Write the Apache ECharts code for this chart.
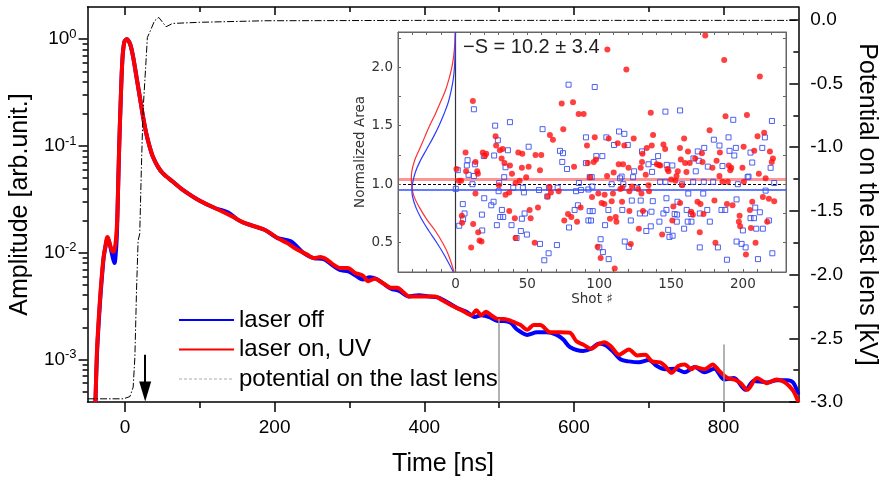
<!DOCTYPE html>
<html><head><meta charset="utf-8">
<script src="https://cdn.jsdelivr.net/npm/echarts@6/dist/echarts.min.js"></script>
<style>html,body{margin:0;padding:0;background:#fff}#c{width:887px;height:482px}</style>
</head><body><div id="c"></div>
<script>
// ---------- main panel data ----------
const laserOff = [[-39.5,0.0004],[-37.5,0.0011],[-35,0.0023],[-32.5,0.0042],[-30.5,0.0063],[-28.5,0.009],[-26.3,0.0112],[-24.5,0.013],[-23,0.0135],[-21,0.0125],[-18.5,0.0105],[-16,0.0088],[-14,0.008],[-12.5,0.0095],[-11,0.014],[-10.1,0.0226],[-7.9,0.0913],[-5.7,0.27],[-3.5,0.64],[-0.9,0.94],[2.2,1.0],[6.6,0.91],[10.9,0.68],[15.4,0.44],[19.7,0.29],[24.1,0.188],[28.5,0.13],[32.9,0.0986],[37.3,0.079],[43.9,0.064],[50.4,0.0556],[63.6,0.0464],[76.8,0.039],[98.7,0.031],[120.7,0.0261],[138,0.0238],[150,0.0205],[160.2,0.0189],[186.5,0.0164],[204,0.0137],[221.6,0.0128],[239,0.0099],[252,0.0089],[265.5,0.0087],[276.5,0.0077],[287,0.0069],[298.5,0.0067],[307,0.0062],[318,0.0056],[327,0.0059],[335.7,0.0057],[344.5,0.0052],[355.5,0.0046],[366.4,0.0044],[379.5,0.0039],[392.7,0.004],[405.9,0.0039],[419,0.0038],[432.2,0.0034],[445.4,0.003],[456.4,0.0028],[467.4,0.0025],[476,0.0026],[487.1,0.0025],[498,0.0023],[506.8,0.0023],[515.7,0.0022],[524.4,0.0019],[537.5,0.0017],[550.7,0.0018],[563.9,0.0018],[577,0.0017],[585.8,0.00154],[594.6,0.00131],[612.2,0.0012],[623.1,0.00126],[634.1,0.00141],[643,0.00135],[651.7,0.0012],[662.6,0.001],[673.6,0.00096],[686.8,0.00094],[700,0.00099],[710.9,0.00087],[721.8,0.00081],[735,0.00082],[748.2,0.00076],[761.4,0.00085],[774.5,0.00076],[787.7,0.00082],[800.8,0.00065],[814,0.00067],[829.4,0.00052],[840.3,0.00063],[857.9,0.00061],[871.1,0.00064],[884.3,0.00064],[893,0.00061],[900,0.00047]];
const laserOn = [[-39.5,0.0004],[-37.5,0.0012],[-35,0.0025],[-32.5,0.0045],[-30.5,0.0067],[-28.5,0.0092],[-26.3,0.0114],[-24.5,0.0135],[-23.3,0.014],[-21.5,0.013],[-19,0.0112],[-16,0.0102],[-14.5,0.0104],[-12.5,0.0125],[-11,0.017],[-10.1,0.0236],[-7.9,0.0913],[-5.7,0.27],[-3.5,0.64],[-0.9,0.94],[2.2,1.0],[6.6,0.91],[10.9,0.68],[15.4,0.44],[19.7,0.29],[24.1,0.188],[28.5,0.13],[32.9,0.0986],[37.3,0.079],[43.9,0.064],[50.4,0.0556],[63.6,0.0464],[76.8,0.039],[98.7,0.031],[120.7,0.0261],[142.6,0.022],[160.2,0.0189],[186.5,0.0164],[204,0.0137],[217,0.0123],[230,0.0107],[243.5,0.0096],[252,0.0089],[261,0.0091],[270,0.0086],[279,0.0077],[287,0.0072],[298,0.0072],[307,0.0065],[318,0.0061],[325,0.0054],[333.5,0.0057],[344.5,0.0052],[355.5,0.0047],[364,0.0047],[373,0.0042],[379.5,0.0039],[388,0.0039],[401.5,0.0039],[414.7,0.0039],[423.5,0.0036],[436.7,0.0032],[449.8,0.0029],[463,0.0026],[469.6,0.0029],[476,0.0026],[482.7,0.0028],[489.3,0.0026],[498,0.0024],[507,0.0024],[515.7,0.0023],[528.8,0.0021],[537.5,0.0019],[546.3,0.0021],[555,0.0021],[568.3,0.0018],[581.5,0.0018],[594.6,0.00178],[603.4,0.00148],[612.2,0.00138],[623.1,0.00126],[631.9,0.00138],[640.7,0.00145],[649.4,0.00133],[660.5,0.00111],[673.6,0.00124],[684.6,0.00109],[695.5,0.00111],[704.3,0.00096],[715.3,0.00094],[721.8,0.00087],[730.6,0.00075],[739.5,0.00087],[748.2,0.0009],[757,0.00081],[761.4,0.00085],[774.5,0.00081],[785.5,0.0009],[794.2,0.00078],[805.3,0.00067],[814,0.00065],[822.8,0.0006],[831.6,0.00052],[844.8,0.00067],[857.9,0.0006],[871.1,0.00065],[882,0.00061],[893,0.00051],[900,0.0004]];
const lensPotential = [[-50,-2.975],[-2,-2.975],[6.6,-2.957],[10.9,-2.884],[13.2,-2.649],[15.4,-2.125],[17.5,-1.733],[19.7,-1.68],[21.9,-1.16],[24.1,-0.714],[27.6,-0.374],[29.9,-0.139],[32.9,-0.1],[39.5,-0.008],[45.2,0.018],[50.4,-0.021],[54.9,-0.055],[63.6,-0.029],[100,-0.02],[187,-0.008],[400,-0.005],[900,-0.005]];
const timeMajorTicks = [0, 200, 400, 600, 800];
const timeMinorTicks = [100, 300, 500, 700];
const ampMinorTicks = [0.0005,0.0006,0.0007,0.0008,0.0009,0.002,0.003,0.004,0.005,0.006,0.007,0.008,0.009,0.02,0.03,0.04,0.05,0.06,0.07,0.08,0.09,0.2,0.3,0.4,0.5,0.6,0.7,0.8,0.9];
const potMajorTicks = [-3, -2.5, -2, -1.5, -1, -0.5, 0];
const potMinorTicks = [-2.75, -2.25, -1.75, -1.25, -0.75, -0.25];
const arrowMark = [[27, 0.00111], [27, 0.000502]];
const guideLines = [[[500, 0.0024], [500, 0.0004]], [[800, 0.00138], [800, 0.0004]]];

// ---------- inset data ----------
const gaussRed = [[-1,0.25],[-5,0.4],[-9,0.5],[-14,0.6],[-20,0.7],[-25,0.8],[-29,0.9],[-30.5,1.0],[-30.7,1.05],[-30.5,1.1],[-28.5,1.2],[-25,1.3],[-21.5,1.4],[-18,1.5],[-14,1.6],[-10.5,1.7],[-7,1.8],[-4.5,1.9],[-2.5,2.0],[-1.2,2.1],[-0.5,2.2],[-0.2,2.3]];
const gaussBlue = [[-1.5,0.25],[-8,0.4],[-13,0.5],[-18.5,0.6],[-23.5,0.7],[-27.5,0.8],[-30,0.9],[-30.3,0.95],[-30,1.0],[-28,1.1],[-24.5,1.2],[-20,1.3],[-15.5,1.4],[-11.5,1.5],[-8,1.6],[-5,1.7],[-3,1.8],[-1.5,1.9],[-0.7,2.0],[-0.3,2.1],[0,2.3]];
const meanRed = 1.045, meanBlue = 0.951, unity = 1.0;
const shotsRed = [[12.1,1.71],[81.8,1.70],[73.9,1.69],[85.7,1.60],[89.2,1.60],[75.0,1.47],[65.7,1.42],[27.9,1.41],[67.8,1.38],[28.3,1.33],[91.5,1.33],[32.8,1.30],[30.9,1.29],[43.7,1.27],[7.0,1.27],[19.0,1.27],[21.4,1.26],[46.5,1.26],[55.7,1.25],[59.7,1.25],[20.4,1.24],[32.1,1.22],[13.9,1.19],[34.1,1.18],[92.0,1.18],[37.9,1.16],[50.9,1.15],[82.5,1.15],[46.2,1.14],[0.7,1.13],[58.8,1.12],[7.4,1.11],[15.1,1.11],[15.6,1.09],[39.3,1.09],[49.2,1.06],[93.6,1.06],[2.3,1.03],[3.9,1.03],[44.6,1.03],[41.8,1.01],[30.2,0.99],[65.5,0.975],[37.4,0.93],[66.4,0.93],[13.9,0.92],[71.8,0.94],[34.8,0.91],[64.1,0.895],[87.1,0.80],[57.4,0.80],[51.6,0.78],[37.4,0.77],[78.3,0.745],[4.4,0.73],[80.6,0.72],[41.3,0.71],[52.3,0.71],[75.7,0.69],[84.6,0.68],[4.6,0.67],[12.3,0.66],[15.8,0.59],[41.8,0.54],[16.7,0.52],[18.1,0.51],[55.1,0.50],[10.9,0.46],
[173.8,2.27],[105.7,2.15],[187.0,2.06],[118.9,1.98],[211.8,1.92],[135.9,1.61],[187.9,1.58],[202.8,1.59],[176.8,1.46],[214.8,1.44],[210.2,1.41],[96.9,1.40],[106.6,1.39],[124.0,1.39],[137.5,1.42],[159.1,1.39],[112.9,1.35],[117.5,1.33],[136.6,1.33],[133.1,1.31],[144.7,1.34],[145.9,1.30],[156.2,1.31],[161.8,1.28],[130.1,1.26],[171.5,1.265],[184.0,1.27],[200.5,1.32],[207.9,1.285],[218.8,1.28],[220.9,1.22],[220.1,1.19],[97.8,1.21],[96.2,1.19],[113.6,1.17],[116.6,1.17],[120.4,1.14],[129.8,1.19],[128.9,1.14],[140.1,1.17],[141.7,1.165],[142.5,1.16],[156.8,1.21],[159.8,1.18],[163.0,1.18],[166.8,1.22],[171.9,1.19],[181.7,1.20],[190.2,1.16],[191.9,1.14],[191.2,1.12],[199.7,1.14],[154.7,1.11],[147.5,1.13],[148.2,1.11],[132.4,1.08],[110.1,1.10],[105.5,1.07],[160.7,1.105],[178.8,1.14],[183.7,1.07],[211.1,1.09],[153.8,1.07],[153.1,1.03],[150.1,1.04],[134.3,0.99],[122.9,0.98],[114.7,0.96],[157.7,0.99],[185.8,1.02],[189.5,1.02],[200.7,1.02],[215.8,1.05],[99.4,0.92],[103.8,0.91],[109.6,0.92],[116.1,0.97],[121.0,0.94],[129.4,0.92],[134.7,0.94],[127.1,0.96],[95.0,0.89],[101.7,0.84],[103.6,0.83],[108.7,0.855],[115.9,0.85],[151.6,0.81],[156.3,0.84],[168.4,0.85],[170.5,0.83],[180.2,0.86],[188.9,0.83],[192.8,0.82],[206.5,0.85],[204.9,0.78],[213.9,0.89],[218.1,0.875],[221.8,0.855],[121.0,0.77],[130.5,0.77],[150.9,0.69],[164.0,0.765],[165.2,0.74],[172.6,0.745],[107.5,0.705],[112.0,0.68],[111.5,0.72],[127.6,0.62],[143.8,0.57],[170.0,0.59],[197.7,0.73],[197.2,0.68],[198.1,0.64],[205.6,0.625],[216.9,0.68],[98.9,0.465],[101.0,0.37],[110.8,0.28],[122.0,0.49],[180.9,0.50],[208.8,0.50],[202.1,0.40]];
const shotsBlue = [[78.7,1.85],[12.8,1.64],[37.9,1.53],[27.6,1.50],[60.6,1.47],[90.8,1.40],[29.5,1.375],[72.7,1.285],[50.9,1.32],[36.5,1.29],[26.9,1.245],[19.7,1.24],[8.4,1.205],[7.9,1.16],[13.5,1.17],[74.8,1.265],[74.3,1.19],[90.8,1.18],[34.8,1.145],[77.6,1.13],[1.6,1.12],[9.1,1.08],[12.8,1.07],[33.9,1.06],[11.8,1.00],[0.2,0.96],[30.4,1.01],[30.0,0.94],[40.2,0.97],[46.9,0.97],[47.6,0.93],[58.1,0.95],[65.0,0.97],[71.1,0.97],[85.9,1.01],[83.9,0.94],[87.3,0.95],[93.4,1.06],[92.5,0.955],[85.2,0.82],[95.5,0.77],[92.5,0.69],[20.0,0.88],[26.5,0.85],[24.9,0.82],[5.1,0.83],[6.3,0.75],[18.4,0.74],[32.3,0.78],[31.1,0.72],[33.2,0.72],[48.1,0.75],[46.2,0.705],[39.0,0.65],[28.8,0.65],[2.6,0.645],[5.3,0.70],[18.6,0.605],[45.5,0.60],[49.7,0.57],[42.5,0.54],[58.8,0.49],[70.6,0.48],[61.8,0.35],[64.8,0.41],[82.9,0.78],[79.0,0.63],[63.9,0.895],
[96.9,1.83],[146.1,1.62],[156.3,1.63],[193.3,1.55],[220.2,1.54],[113.8,1.45],[117.5,1.43],[105.0,1.40],[110.3,1.335],[119.9,1.335],[129.8,1.28],[141.0,1.24],[168.6,1.28],[183.7,1.33],[173.1,1.31],[179.8,1.38],[190.0,1.40],[195.1,1.31],[190.7,1.285],[194.0,1.245],[205.3,1.27],[213.5,1.31],[215.3,1.40],[98.0,1.24],[102.2,1.24],[137.9,1.19],[134.3,1.17],[124.3,1.11],[136.8,1.105],[147.0,1.165],[150.9,1.16],[165.6,1.22],[169.3,1.20],[167.2,1.11],[175.6,1.15],[185.8,1.155],[203.3,1.06],[206.5,1.185],[219.3,1.14],[94.8,1.06],[114.5,1.05],[115.6,1.065],[123.6,1.06],[95.2,0.98],[108.7,1.00],[116.8,1.00],[126.4,0.97],[142.4,1.02],[146.1,1.02],[157.7,1.00],[165.4,1.02],[172.8,1.02],[179.3,1.02],[196.5,1.00],[203.9,1.065],[221.8,1.01],[215.8,0.945],[172.4,0.92],[162.0,0.92],[154.5,0.85],[122.7,0.86],[128.9,0.86],[137.3,0.855],[146.8,0.88],[146.8,0.78],[160.9,0.78],[175.2,0.78],[185.1,0.78],[187.7,0.78],[195.6,0.87],[208.6,0.80],[211.8,0.76],[93.4,0.77],[106.4,0.78],[116.1,0.78],[128.3,0.75],[131.9,0.75],[136.4,0.765],[144.7,0.75],[152.5,0.745],[154.2,0.74],[163.8,0.745],[170.0,0.75],[94.3,0.69],[104.1,0.65],[122.0,0.69],[135.9,0.64],[141.9,0.68],[154.0,0.68],[161.6,0.68],[164.2,0.68],[177.0,0.68],[205.3,0.71],[207.7,0.71],[218.1,0.69],[132.8,0.60],[148.0,0.61],[159.1,0.62],[200.0,0.605],[209.3,0.62],[213.9,0.62],[101.0,0.53],[117.8,0.51],[148.9,0.55],[151.1,0.56],[195.6,0.51],[199.1,0.49],[201.9,0.46],[100.1,0.46],[102.6,0.42],[106.6,0.36],[120.6,0.465],[170.0,0.46],[182.6,0.46],[188.9,0.355],[210.5,0.36],[220.5,0.41]];
const insetTitle = '\u2212S = 10.2 \u00b1 3.4';

// ---------- chart ----------
const MF = 'Liberation Sans, Arial, sans-serif';
const IF = 'DejaVu Sans, sans-serif';
const black = {color:'#000', width:1.5};
const grey = {color:'#666', width:1};
const insetLabel = {fontFamily: IF, fontSize: 13.5, color: '#333'};
const noLine = {show:false, onZero:false};

const chart = echarts.init(document.getElementById('c'), null, {renderer:'canvas'});
chart.setOption({
  animation: false,
  backgroundColor: '#fff',
  title: {text: insetTitle, left: 463, top: 37, padding: 0,
    textStyle: {fontFamily: MF, fontSize: 20, fontWeight: 'normal', color: '#222'}},
  legend: {orient: 'vertical', left: 178, top: 308, padding: 0, itemGap: 5.5,
    itemWidth: 55, itemHeight: 14, itemStyle: {opacity: 0},
    textStyle: {fontFamily: MF, fontSize: 24, color: '#000'},
    data: ['laser off', 'laser on, UV',
      {name: 'potential on the last lens', lineStyle: {color: '#aaa', width: 1, type: [3, 2]}}]},
  grid: [
    {left: 87, right: 79, top: 7, bottom: 80, containLabel: false},
    {left: 398, right: 101, top: 32, bottom: 210, containLabel: false, show: true,
      backgroundColor: '#fff', borderColor: '#666', borderWidth: 1, z: 5}
  ],
  xAxis: [
    {gridIndex:0, type:'value', position:'bottom', min:-50, max:900,
      axisLine:{show:true, onZero:false, lineStyle:black},
      axisTick:{show:true, inside:false, length:10, customValues: timeMajorTicks, lineStyle:black},
      axisLabel:{customValues: timeMajorTicks, margin:16, fontSize:19, color:'#000', fontFamily: MF},
      splitLine:{show:false},
      name:'Time [ns]', nameLocation:'middle', nameGap:50,
      nameTextStyle:{fontSize:25, color:'#000', fontFamily: MF}},
    {gridIndex:0, type:'value', position:'bottom', min:-50, max:900,
      axisLine:noLine, axisLabel:{show:false}, splitLine:{show:false},
      axisTick:{show:true, inside:false, length:6, customValues: timeMinorTicks, lineStyle:black}},
    {gridIndex:0, type:'value', position:'top', min:-50, max:900,
      axisLine:{show:true, onZero:false, lineStyle:black}, axisLabel:{show:false}, splitLine:{show:false},
      axisTick:{show:true, inside:true, length:8, customValues: timeMajorTicks, lineStyle:black}},
    {gridIndex:0, type:'value', position:'top', min:-50, max:900,
      axisLine:noLine, axisLabel:{show:false}, splitLine:{show:false},
      axisTick:{show:true, inside:true, length:5, customValues: timeMinorTicks, lineStyle:black}},
    {gridIndex:1, type:'value', position:'bottom', min:-40, max:230, interval:10,
      axisLine:{show:true, onZero:false, lineStyle:grey},
      axisTick:{show:true, inside:true, length:3, lineStyle:grey},
      axisLabel:{margin:5, ...insetLabel, showMinLabel:false, showMaxLabel:false,
        formatter: v => (v >= 0 && v % 50 === 0) ? String(v) : ''},
      splitLine:{show:false},
      name:'Shot \u266f', nameLocation:'middle', nameGap:20, nameTextStyle: insetLabel, z: 6},
    {gridIndex:1, type:'value', position:'top', min:-40, max:230, interval:10,
      axisLine:{show:true, onZero:false, lineStyle:grey}, axisLabel:{show:false}, splitLine:{show:false},
      axisTick:{show:true, inside:true, length:3, lineStyle:grey}, z: 6}
  ],
  yAxis: [
    {gridIndex:0, type:'log', logBase:10, position:'left', min:0.0004, max:2,
      axisLine:{show:true, onZero:false, lineStyle:black},
      axisTick:{show:true, inside:false, length:9, lineStyle:black},
      axisLabel:{margin:11, color:'#000', fontFamily: MF, showMinLabel:false, showMaxLabel:false,
        formatter: v => { const e = Math.log10(v); const r = Math.round(e);
          return Math.abs(e - r) < 1e-6 ? '{b|10}{s|' + r + '}' : ''; },
        rich: {b:{fontSize:19, fontFamily: MF, color:'#000'}, s:{fontSize:13, fontFamily: MF, color:'#000', padding:[0,0,10,0]}}},
      splitLine:{show:false},
      name:'Amplitude [arb.unit.]', nameLocation:'middle', nameGap:50, nameRotate:90,
      nameTextStyle:{fontSize:25, color:'#000', fontFamily: MF}},
    {gridIndex:0, type:'log', logBase:10, position:'left', min:0.0004, max:2,
      axisLine:noLine, axisLabel:{show:false}, splitLine:{show:false},
      axisTick:{show:true, inside:false, length:5, customValues: ampMinorTicks, lineStyle:black}},
    {gridIndex:0, type:'value', position:'right', min:-3, max:0.1,
      axisLine:{show:true, onZero:false, lineStyle:black},
      axisTick:{show:true, inside:true, length:9, customValues: potMajorTicks, lineStyle:black},
      axisLabel:{customValues: potMajorTicks, margin:12, fontSize:19, color:'#000', fontFamily: MF,
        formatter: v => v.toFixed(1)},
      splitLine:{show:false},
      name:'Potential on the last lens [kV]', nameLocation:'middle', nameGap:55, nameRotate:-90,
      nameTextStyle:{fontSize:25, color:'#000', fontFamily: MF}},
    {gridIndex:0, type:'value', position:'right', min:-3, max:0.1,
      axisLine:noLine, axisLabel:{show:false}, splitLine:{show:false},
      axisTick:{show:true, inside:true, length:5, customValues: potMinorTicks, lineStyle:black}},
    {gridIndex:1, type:'value', position:'left', min:0.25, max:2.3, interval:0.25,
      axisLine:{show:true, onZero:false, lineStyle:grey},
      axisTick:{show:true, inside:true, length:3, lineStyle:grey},
      axisLabel:{margin:5, ...insetLabel, showMaxLabel:false,
        formatter: v => (Math.abs(v * 2 - Math.round(v * 2)) < 1e-6) ? v.toFixed(1) : ''},
      splitLine:{show:false},
      name:'Normalized Area', nameLocation:'middle', nameGap:24, nameRotate:90, nameTextStyle: insetLabel, z: 6},
    {gridIndex:1, type:'value', position:'right', min:0.25, max:2.3, interval:0.25,
      axisLine:{show:true, onZero:false, lineStyle:grey}, axisLabel:{show:false}, splitLine:{show:false},
      axisTick:{show:true, inside:true, length:3, lineStyle:grey}, z: 6}
  ],
  series: [
    {name:'laser off', type:'line', xAxisIndex:0, yAxisIndex:0, data: laserOff, symbol:'none', smooth:0.3,
      lineStyle:{color:'#0000ff', width:4}, itemStyle:{color:'#0000ff'}, z:2,
      markLine:{silent:true, symbol:'none', animation:false, label:{show:false},
        lineStyle:{color:'#999', width:1.5, type:'solid'},
        data: guideLines.map(seg => [{coord: seg[0]}, {coord: seg[1]}])}},
    {name:'laser on, UV', type:'line', xAxisIndex:0, yAxisIndex:0, data: laserOn, symbol:'none', smooth:0.3,
      lineStyle:{color:'#ff0000', width:4}, itemStyle:{color:'#ff0000'}, z:3,
      markLine:{silent:true, animation:false, label:{show:false},
        lineStyle:{color:'#000', width:2, type:'solid'},
        data: [[{coord: arrowMark[0], symbol:'none'},
                {coord: arrowMark[1], symbol:'path://M6,0 L12,20 L0,20 Z', symbolSize:[12,20]}]]}},
    {name:'potential on the last lens', type:'line', xAxisIndex:0, yAxisIndex:2, data: lensPotential,
      symbol:'none', lineStyle:{color:'#000', width:1, type:[7,2,1.5,2]}, itemStyle:{color:'#000'}, z:4},
    {name:'gaussRed', type:'line', xAxisIndex:4, yAxisIndex:4, data: gaussRed, symbol:'none', smooth:0.4,
      lineStyle:{color:'#ff3030', width:1.2}, z:10,
      markLine:{silent:true, symbol:'none', animation:false, label:{show:false},
        data:[{xAxis:0, lineStyle:{color:'#333', width:1.2, type:'solid'}},
              {yAxis: meanRed, lineStyle:{color:'rgba(255,60,60,0.55)', width:3, type:'solid'}},
              {yAxis: unity, lineStyle:{color:'#000', width:1, type:[3,2]}},
              {yAxis: meanBlue, lineStyle:{color:'#3050ff', width:1.5, type:'solid'}}]}},
    {name:'gaussBlue', type:'line', xAxisIndex:4, yAxisIndex:4, data: gaussBlue, symbol:'none', smooth:0.4,
      lineStyle:{color:'#2a3cff', width:1.2}, z:10},
    {name:'shotsBlue', type:'scatter', xAxisIndex:4, yAxisIndex:4, data: shotsBlue, symbol:'rect', symbolSize:5,
      itemStyle:{color:'rgba(255,255,255,0)', borderColor:'#3a50f0', borderWidth:1, opacity:0.9}, z:11},
    {name:'shotsRed', type:'scatter', xAxisIndex:4, yAxisIndex:4, data: shotsRed, symbol:'circle', symbolSize:6,
      itemStyle:{color:'#ff1010'}, z:12}
  ]
});
</script></body></html>
